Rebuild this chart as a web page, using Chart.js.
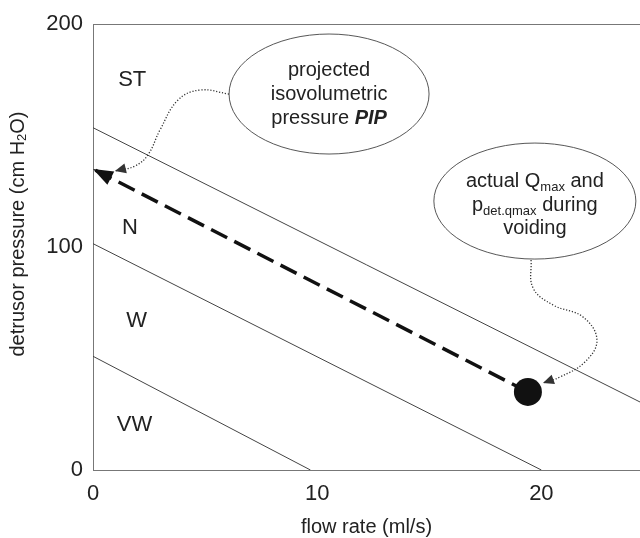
<!DOCTYPE html>
<html><head><meta charset="utf-8">
<script src="https://cdn.jsdelivr.net/npm/chart.js@4/dist/chart.umd.min.js"></script>
<style>html,body{margin:0;padding:0;background:#fff}#wrap{width:640px;height:538px}</style>
</head><body><div id="wrap"><canvas id="c" width="640" height="538"></canvas></div>
<script>
// ---- data ----
const xTickValues = [0, 10, 20];
const yTickValues = [0, 100, 200];
const xTitle = 'flow rate (ml/s)';
const yTitleParts = ['detrusor pressure (cm H', '2', 'O)'];
const regionNames = ['ST', 'N', 'W', 'VW'];
const regionFlow = [1.75, 1.65, 1.95, 1.85];
const regionPressure = [175, 108.5, 67, 20];
const vwBoundaryFlow = [0, 9.7];
const vwBoundaryPressure = [51, 0];
const wBoundaryFlow = [0, 20];
const wBoundaryPressure = [101.5, 0];
const stBoundaryFlow = [0, 24.4];
const stBoundaryPressure = [153.5, 30.5];
const qmaxFlow = [19.4];
const qmaxPressure = [35];
const pipFlow = [19.4, 0];
const pipPressure = [35, 135];
const pipNoteFlow = [6.07, 4.77, 3.79, 2.99, 2.45, 1.87, 0.98];
const pipNotePressure = [168.6, 170.4, 165.9, 152.5, 141.3, 136.3, 134.1];
const qmaxNoteFlow = [19.54, 19.63, 20.52, 21.86, 22.48, 21.94, 20.83, 20.07];
const qmaxNotePressure = [94.2, 81.6, 74.0, 68.6, 58.3, 48.4, 41.7, 39.0];
const pipBubbleCenter = [10.53, 168.6];
const qmaxBubbleCenter = [19.71, 120.6];

const pts = (xs, ys) => xs.map((x, i) => ({x: x, y: ys[i]}));
const FAM = '"Liberation Sans", Arial, Helvetica, sans-serif';
const F = (s, st) => (st ? st + ' ' : '') + s + 'px ' + FAM;

function drawRich(ctx, parts, cx, y) {
  let total = 0;
  parts.forEach(p => { ctx.font = p.f; p.w = ctx.measureText(p.t).width; total += p.w; });
  let x = cx - total / 2;
  ctx.textAlign = 'left';
  parts.forEach(p => { ctx.font = p.f; ctx.fillText(p.t, x, y + (p.dy || 0)); x += p.w; });
}

const notePlugin = {
  id: 'notes',
  afterDatasetsDraw(chart) {
    const ctx = chart.ctx;
    chart.data.datasets.forEach((ds, i) => {
      if (!ds.arrowHead) return;
      const meta = chart.getDatasetMeta(i);
      const n = meta.data.length;
      const tip = meta.data[n - 1];
      let px, py;
      if (tip.cp1x !== undefined && Math.hypot(tip.cp1x - tip.x, tip.cp1y - tip.y) > 0.5) { px = tip.cp1x; py = tip.cp1y; }
      else { px = meta.data[n - 2].x; py = meta.data[n - 2].y; }
      const dx = tip.x - px, dy = tip.y - py, L = Math.hypot(dx, dy);
      const ux = dx / L, uy = dy / L;
      const len = ds.arrowHead[0], half = ds.arrowHead[1];
      const bx = tip.x - ux * len, by = tip.y - uy * len;
      ctx.save();
      ctx.fillStyle = ds.borderColor;
      ctx.beginPath();
      ctx.moveTo(tip.x, tip.y);
      ctx.lineTo(bx - uy * half, by + ux * half);
      ctx.lineTo(bx + uy * half, by - ux * half);
      ctx.closePath();
      ctx.fill();
      ctx.restore();
    });
  },
  afterDraw(chart) {
    const ctx = chart.ctx;
    const xs = chart.scales.x, ys = chart.scales.y;
    ctx.save();
    ctx.fillStyle = '#222';
    ctx.strokeStyle = '#444';
    ctx.lineWidth = 0.9;
    // bubble 1
    let cx = xs.getPixelForValue(pipBubbleCenter[0]), cy = ys.getPixelForValue(pipBubbleCenter[1]);
    ctx.beginPath(); ctx.ellipse(cx, cy, 100, 60, 0, 0, Math.PI * 2); ctx.stroke();
    ctx.textBaseline = 'alphabetic';
    drawRich(ctx, [{t: 'projected', f: F(20)}], cx, cy - 18);
    drawRich(ctx, [{t: 'isovolumetric', f: F(20)}], cx, cy + 6);
    drawRich(ctx, [{t: 'pressure ', f: F(20)}, {t: 'PIP', f: F(20, 'italic bold')}], cx, cy + 30);
    // bubble 2
    cx = xs.getPixelForValue(qmaxBubbleCenter[0]); cy = ys.getPixelForValue(qmaxBubbleCenter[1]);
    ctx.beginPath(); ctx.ellipse(cx, cy, 101, 58, 0, 0, Math.PI * 2); ctx.stroke();
    drawRich(ctx, [{t: 'actual Q', f: F(20)}, {t: 'max', f: F(13), dy: 4}, {t: ' and', f: F(20)}], cx, cy - 14);
    drawRich(ctx, [{t: 'p', f: F(20)}, {t: 'det.qmax', f: F(13), dy: 4}, {t: ' during', f: F(20)}], cx, cy + 10);
    drawRich(ctx, [{t: 'voiding', f: F(20)}], cx, cy + 33);
    // region labels
    ctx.textBaseline = 'middle';
    regionNames.forEach((name, i) => {
      drawRich(ctx, [{t: name, f: F(22)}], xs.getPixelForValue(regionFlow[i]), ys.getPixelForValue(regionPressure[i]));
    });
    // y title
    ctx.translate(18, 234);
    ctx.rotate(-Math.PI / 2);
    drawRich(ctx, [{t: yTitleParts[0], f: F(20)}, {t: yTitleParts[1], f: F(13), dy: 4}, {t: yTitleParts[2], f: F(20)}], 0, 0);
    ctx.restore();
  }
};

new Chart(document.getElementById('c'), {
  type: 'scatter',
  data: {
    datasets: [
      {data: pts(qmaxFlow, qmaxPressure), pointRadius: 14, pointBackgroundColor: '#111', pointBorderColor: '#111', pointBorderWidth: 0, order: 0},
      {data: pts(pipFlow, pipPressure), showLine: true, borderColor: '#111', borderWidth: 3.5, borderDash: [18, 8], pointRadius: 0, arrowHead: [20, 7.5], order: 1},
      {data: pts(pipNoteFlow, pipNotePressure), showLine: true, tension: 0.4, borderColor: '#333', borderWidth: 1.3, borderDash: [1.2, 1.8], pointRadius: 0, arrowHead: [11, 5], order: 2},
      {data: pts(qmaxNoteFlow, qmaxNotePressure), showLine: true, tension: 0.4, borderColor: '#333', borderWidth: 1.3, borderDash: [1.2, 1.8], pointRadius: 0, arrowHead: [11, 5], order: 2},
      {data: pts(stBoundaryFlow, stBoundaryPressure), showLine: true, borderColor: '#444', borderWidth: 1, pointRadius: 0, order: 3},
      {data: pts(wBoundaryFlow, wBoundaryPressure), showLine: true, borderColor: '#444', borderWidth: 1, pointRadius: 0, order: 3},
      {data: pts(vwBoundaryFlow, vwBoundaryPressure), showLine: true, borderColor: '#444', borderWidth: 1, pointRadius: 0, order: 3}
    ]
  },
  options: {
    responsive: false,
    animation: false,
    events: [],
    layout: {autoPadding: false, padding: {top: 24, right: 0, left: 0, bottom: 0}},
    plugins: {legend: {display: false}, tooltip: {enabled: false}},
    scales: {
      x: {
        type: 'linear', min: 0, max: 24.4,
        afterBuildTicks: s => { s.ticks = xTickValues.map(v => ({value: v})); },
        afterFit: s => { s.height = 68; s.paddingRight = 0; s.paddingLeft = 0; },
        grid: {color: 'rgba(0,0,0,0)', drawTicks: false},
        border: {display: true, color: '#777', width: 1},
        ticks: {padding: 11, color: '#222', font: {family: FAM, size: 22}},
        title: {display: true, text: xTitle, color: '#222', font: {family: FAM, size: 20, lineHeight: 1.1}, padding: {top: 0, bottom: 0}}
      },
      y: {
        type: 'linear', min: 0, max: 200,
        afterBuildTicks: s => { s.ticks = yTickValues.map(v => ({value: v})); },
        afterFit: s => { s.width = 93; s.paddingTop = 0; s.paddingBottom = 0; },
        grid: {drawTicks: false, lineWidth: 1, color: c => (c.tick && c.tick.value === 200) ? '#777' : 'rgba(0,0,0,0)'},
        border: {display: true, color: '#777', width: 1},
        ticks: {padding: 10, color: '#222', font: {family: FAM, size: 22}}
      }
    }
  },
  plugins: [notePlugin]
});
</script>
</body></html>
